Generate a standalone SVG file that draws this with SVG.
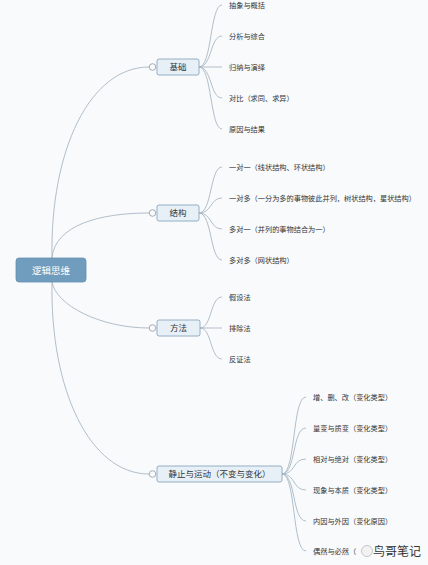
<svg xmlns="http://www.w3.org/2000/svg" width="428" height="565" viewBox="0 0 428 565">
<style>
.bg{fill:#f9fafc}
.ln{fill:none;stroke:#a8b8c4;stroke-width:0.9}
.box{fill:#e8f0f7;stroke:#8aa6bd;stroke-width:0.9}
.root{fill:#709dbe;stroke:#6590b2;stroke-width:0.8}
.knob{fill:#f9fafc;stroke:#9aa4ac;stroke-width:0.9}
.t{font-family:"Noto Sans CJK SC","Noto Sans",sans-serif;fill:#333}
.leaf{font-size:7.2px}
.br{font-size:8.5px;text-anchor:middle}
.rt{font-size:9.5px;fill:#fff;text-anchor:middle}
</style>
<rect class="bg" width="428" height="565"/>
<g id="connectors">
<path class="ln" d="M52,258 C50,150 90,67 149,67"/>
<path class="ln" d="M52,258 C55,225 100,213 149,213"/>
<path class="ln" d="M52,282 C56,305 100,328 149,328"/>
<path class="ln" d="M52,282 C50,390 90,474 149,474"/>
<path class="ln" d="M199,67 C212,67 210,5 222,5"/>
<path class="ln" d="M199,67 C212,67 210,36 222,36"/>
<path class="ln" d="M199,67 L222,67"/>
<path class="ln" d="M199,67 C212,67 210,98 222,98"/>
<path class="ln" d="M199,67 C212,67 210,129 222,129"/>
<path class="ln" d="M199,213 C212,213 210,167 222,167"/>
<path class="ln" d="M199,213 C212,213 210,198 222,198"/>
<path class="ln" d="M199,213 C212,213 210,229 222,229"/>
<path class="ln" d="M199,213 C212,213 210,260 222,260"/>
<path class="ln" d="M200,328 C212,328 210,297 222,297"/>
<path class="ln" d="M200,328 L222,328"/>
<path class="ln" d="M200,328 C212,328 210,359 222,359"/>
<path class="ln" d="M282,474 C296,474 292,397 306,397"/>
<path class="ln" d="M282,474 C296,474 292,428 306,428"/>
<path class="ln" d="M282,474 C296,474 292,459 306,459"/>
<path class="ln" d="M282,474 C296,474 292,490 306,490"/>
<path class="ln" d="M282,474 C296,474 292,521 306,521"/>
<path class="ln" d="M282,474 C296,474 292,551 306,551"/>
</g>
<g id="root">
<rect class="root" x="16" y="258" width="70" height="24" rx="3"/>
<text class="t rt" x="51" y="273.5">逻辑思维</text>
</g>
<g id="n-jichu">
<rect class="box" x="157" y="59" width="42" height="16" rx="2"/>
<circle class="knob" cx="152.5" cy="67" r="3.3"/>
<text class="t br" x="178" y="70">基础</text>
</g>
<g id="n-jiegou">
<rect class="box" x="157" y="205" width="42" height="16" rx="2"/>
<circle class="knob" cx="152.5" cy="213" r="3.3"/>
<text class="t br" x="178" y="216">结构</text>
</g>
<g id="n-fangfa">
<rect class="box" x="157" y="320" width="43" height="16" rx="2"/>
<circle class="knob" cx="152.5" cy="328" r="3.3"/>
<text class="t br" x="178.5" y="331">方法</text>
</g>
<g id="n-jingzhi">
<rect class="box" x="157" y="466" width="125" height="16" rx="2"/>
<circle class="knob" cx="152.5" cy="474" r="3.3"/>
<text class="t br" x="219.5" y="477">静止与运动（不变与变化）</text>
</g>
<g id="leaves-jichu">
<text class="t leaf" x="229" y="8">抽象与概括</text>
<text class="t leaf" x="229" y="39">分析与综合</text>
<text class="t leaf" x="229" y="70">归纳与演绎</text>
<text class="t leaf" x="229" y="101">对比（求同、求异）</text>
<text class="t leaf" x="229" y="132">原因与结果</text>
</g>
<g id="leaves-jiegou">
<text class="t leaf" x="229" y="170">一对一（线状结构、环状结构）</text>
<text class="t leaf" x="229" y="201">一对多（一分为多的事物彼此并列，树状结构，星状结构）</text>
<text class="t leaf" x="229" y="232">多对一（并列的事物结合为一）</text>
<text class="t leaf" x="229" y="263">多对多（网状结构）</text>
</g>
<g id="leaves-fangfa">
<text class="t leaf" x="229" y="300">假设法</text>
<text class="t leaf" x="229" y="331">排除法</text>
<text class="t leaf" x="229" y="362">反证法</text>
</g>
<g id="leaves-jingzhi">
<text class="t leaf" x="313" y="400">增、删、改（变化类型）</text>
<text class="t leaf" x="313" y="431">量变与质变（变化类型）</text>
<text class="t leaf" x="313" y="462">相对与绝对（变化类型）</text>
<text class="t leaf" x="313" y="493">现象与本质（变化类型）</text>
<text class="t leaf" x="313" y="524">内因与外因（变化原因）</text>
<text class="t leaf" x="313" y="554">偶然与必然（</text>
</g>
<g id="watermark">
<circle cx="367" cy="551" r="5.5" fill="#f2f2f2" stroke="#bbb" stroke-width="0.8"/>
<text class="t" x="373" y="555.5" font-size="12" fill="#555">鸟哥笔记</text>
</g>
</svg>
